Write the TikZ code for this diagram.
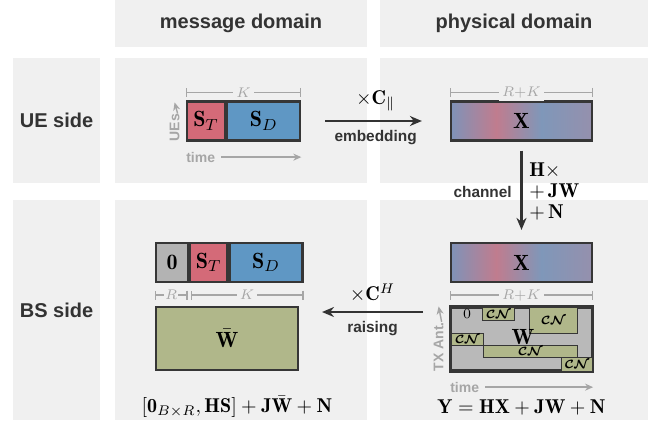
\documentclass[tikz,border=0pt]{standalone}
\usepackage{amsmath}
\usepackage{fontspec}
\setsansfont{Liberation Sans}
\usetikzlibrary{arrows.meta, positioning, calc}
\definecolor{panelBg}{HTML}{F0F0F0}
\definecolor{textDark}{HTML}{333333}
\definecolor{dimGray}{HTML}{A6A6A6}
\definecolor{boxLine}{HTML}{363636}
\definecolor{redT}{HTML}{D46A78}
\definecolor{blueD}{HTML}{5F97C4}
\definecolor{oliveW}{HTML}{B0B78A}
\definecolor{zeroGray}{HTML}{B3B3B3}
\definecolor{wGray}{HTML}{B9B9B9}
\definecolor{xBlue}{HTML}{7F93B8}
\definecolor{xPink}{HTML}{C07C8E}
\definecolor{xBlueB}{HTML}{7F97B9}
\definecolor{xMauve}{HTML}{9590AD}
\pgfdeclarehorizontalshading{xmix}{100bp}{color(0bp)=(xBlue); color(25bp)=(xBlue); color(41bp)=(xPink); color(57bp)=(xBlueB); color(75bp)=(xMauve); color(100bp)=(xMauve)}

\begin{document}
\begin{tikzpicture}[
    x=0.5pt, y=-0.5pt,
    font=\sffamily\bfseries\fontsize{10}{12}\selectfont,
    % background panels and headers
    panel/.style={fill=panelBg, inner sep=0pt, text=textDark},
    % matrix blocks
    mbox/.style={draw=boxLine, line width=1.1pt, inner sep=0pt, minimum height=19.5pt,
        font=\fontsize{11}{13}\selectfont},
    cn/.style={draw=boxLine, fill=oliveW, line width=0.6pt, inner sep=0pt, anchor=north west,
        font=\fontsize{6}{7}\selectfont},
    % dimension brackets
    dimline/.style={draw=dimGray, line width=0.7pt, {Bar[width=4.5pt]-Bar[width=4.5pt]}},
    dimlbl/.style={fill=panelBg, inner sep=1.5pt, text=dimGray, font=\fontsize{7}{8}\selectfont},
    gtxt/.style={text=dimGray, inner sep=0pt, font=\sffamily\bfseries\fontsize{7}{8}\selectfont},
    garrow/.style={draw=dimGray, line width=0.7pt, -{Stealth[length=4pt, width=3.5pt]}},
    % main arrows
    flow/.style={draw=textDark, line width=1.1pt, -{Stealth[length=6pt, width=5pt]}},
    flowlbl/.style={text=textDark, font=\sffamily\bfseries\fontsize{7.7}{9}\selectfont}
]
\useasboundingbox (0,0) rectangle (657,430);

% panels
\node[panel, minimum width=126pt, minimum height=23.5pt] (hMsg) at (241,23.5) {message domain};
\node[panel, minimum width=134pt, minimum height=23.5pt] (hPhy) at (514,23.5) {physical domain};
\node[panel, minimum width=43.5pt, minimum height=62.5pt] (sUE) at (56.5,120.5) {UE side};
\node[panel, minimum width=43.5pt, minimum height=110pt] (sBS) at (56.5,310) {BS side};
\node[panel, minimum width=126pt, minimum height=62.5pt] (pMsgUE) at (241,120.5) {};
\node[panel, minimum width=134pt, minimum height=62.5pt] (pPhyUE) at (514,120.5) {};
\node[panel, minimum width=126pt, minimum height=110pt] (pMsgBS) at (241,310) {};
\node[panel, minimum width=134pt, minimum height=110pt] (pPhyBS) at (514,310) {};

% UE side, message domain
\node[mbox, fill=redT, minimum width=19pt] (sT) at (206,121) {$\mathbf{S}_T$};
\node[mbox, fill=blueD, minimum width=36.5pt, right=0pt of sT] (sD) {$\mathbf{S}_D$};
\draw[dimline] ([yshift=4pt]sT.north west) -- node[dimlbl] {$K$} ([yshift=4pt]sD.north east);
\node[gtxt, anchor=north west] (tUE) at ([yshift=-5pt]sT.south west) {time};
\draw[garrow] ([xshift=3pt]tUE.east) -- (tUE.east -| sD.east);
\node[gtxt, rotate=90, anchor=south west] (uUE) at ([xshift=-3pt]sT.south west) {UEs};
\draw[garrow] ([xshift=1.5pt]uUE.east) -- ([yshift=-1pt]uUE.east |- sT.north);

% UE side, physical domain
\node[mbox, shade, shading=xmix, minimum width=70.5pt] (xUE) at (521.5,121) {$\mathbf{X}$};
\draw[dimline] ([yshift=4pt]xUE.north west) -- node[dimlbl] {$R{+}K$} ([yshift=4pt]xUE.north east);

% BS side, physical domain
\node[mbox, shade, shading=xmix, minimum width=70.5pt] (xBS) at (521.5,262.5) {$\mathbf{X}$};
\draw[dimline] ([yshift=-6pt]xBS.south west) -- node[dimlbl] {$R{+}K$} ([yshift=-6pt]xBS.south east);
\node[mbox, fill=wGray, minimum width=70.5pt, minimum height=31.5pt] (wBox) at (521.5,339) {};
\node[cn, minimum width=16pt, minimum height=6.5pt] (cnA) at (482,307) {$\boldsymbol{\mathcal{CN}}$};
\node[cn, minimum width=24pt, minimum height=13pt] (cnB) at (529,307) {$\boldsymbol{\mathcal{CN}}$};
\node[cn, minimum width=16pt, minimum height=6pt] (cnC) at (451,333) {$\boldsymbol{\mathcal{CN}}$};
\node[cn, minimum width=47pt, minimum height=6pt] (cnD) at (483,345) {$\boldsymbol{\mathcal{CN}}$};
\node[cn, minimum width=15.5pt, minimum height=7pt] (cnE) at (561,357) {$\boldsymbol{\mathcal{CN}}$};
\draw[draw=boxLine, line width=1.1pt] (wBox.north west) rectangle (wBox.south east);
\node[font=\fontsize{7}{8}\selectfont, inner sep=0pt] (zW) at (467,314) {$0$};
\node[inner sep=0pt, font=\fontsize{11}{13}\selectfont] (wLbl) at (523,337) {$\mathbf{W}$};
\node[gtxt, anchor=north west] (tBS) at ([yshift=-5pt]wBox.south west) {time};
\draw[garrow] ([xshift=3pt]tBS.east) -- (tBS.east -| wBox.east);
\node[gtxt, rotate=90, anchor=south west] (aBS) at ([xshift=-3pt]wBox.south west) {TX Ant.};
\draw[garrow] ([xshift=1.5pt]aBS.east) -- (aBS.east |- wBox.north);
\node (eqPhy) at (521.5,407) {$\mathbf{Y}=\mathbf{HX}+\mathbf{JW}+\mathbf{N}$};

% BS side, message domain
\node[mbox, fill=zeroGray, minimum width=16pt] (zBS) at (172,262.5) {$\mathbf{0}$};
\node[mbox, fill=redT, minimum width=18.5pt, right=0pt of zBS] (sT2) {$\mathbf{S}_T$};
\node[mbox, fill=blueD, minimum width=36.5pt, right=0pt of sT2] (sD2) {$\mathbf{S}_D$};
\draw[dimline] ([yshift=-6pt]zBS.south west) -- node[dimlbl, inner sep=0.5pt] {$R$} ([yshift=-6pt,xshift=-0.8pt]zBS.south east);
\draw[dimline] ([yshift=-6pt,xshift=0.8pt]sT2.south west) -- node[dimlbl] {$K$} ([yshift=-6pt]sD2.south east);
\node[mbox, fill=oliveW, minimum width=71pt, minimum height=31.5pt] (wBar) at (227,338.5) {$\bar{\mathbf{W}}$};
\node (eqMsg) at (237,407) {$[\mathbf{0}_{B\times R},\mathbf{HS}]+\mathbf{J}\bar{\mathbf{W}}+\mathbf{N}$};

% transitions
\draw[flow, shorten <=12pt, shorten >=14pt] (sD) -- node[above=1pt, text=black] {$\times\mathbf{C}_{\parallel}$}
    node[below=1pt, flowlbl] {embedding} (xUE);
\draw[flow, shorten <=4.5pt, shorten >=6pt] (xUE) -- node[left=1pt, flowlbl] {channel}
    node[right=0pt, align=left, text=black, font=\fontsize{10}{10.5}\selectfont] {$\mathbf{H}\times$\\$+\,\mathbf{JW}$\\$+\,\mathbf{N}$} (xBS);
\coordinate (raiseA) at (423,312);
\coordinate (raiseB) at (322,312);
\draw[flow] (raiseA) -- node[above=1pt, text=black] {$\times\mathbf{C}^H$}
    node[below=1pt, flowlbl] {raising} (raiseB);

\end{tikzpicture}
\end{document}
